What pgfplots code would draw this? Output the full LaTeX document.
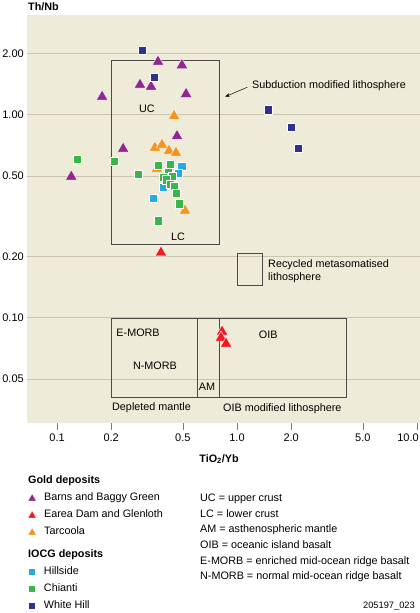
\documentclass[border=0pt]{standalone}
\usepackage{fontspec}
\setmainfont{Liberation Sans}
\usepackage{pgfplots}
\pgfplotsset{compat=1.18}
\usetikzlibrary{arrows.meta}
\definecolor{purpleM}{HTML}{92278F}
\definecolor{redM}{HTML}{ED1C24}
\definecolor{orangeM}{HTML}{F7941D}
\definecolor{blueL}{HTML}{27AAE1}
\definecolor{greenM}{HTML}{39B54A}
\definecolor{blueD}{HTML}{2E3192}
\definecolor{bgc}{HTML}{EEEBD9}
\definecolor{gridc}{HTML}{C9C5AE}
\definecolor{boxc}{HTML}{4A4A4A}
\newcommand\mf{\fontsize{10.8}{13}\selectfont}
\pgfplotsset{
  mylegend/.style={
    legend style={anchor=north west, draw=none, fill=none,
      inner sep=0pt, outer sep=0pt, row sep=5pt, font=\mf,
      nodes={inner sep=0pt, text height=9.5pt, text depth=2.5pt}},
    legend cell align=left,
  },
  tri/.style={mark=triangle*, mark size=4.8pt, mark options={fill=#1, draw=white, line width=0.3pt},
    legend image code/.code={\path[draw=none] (-4pt,0pt) -- (12pt,0pt); \draw[##1, only marks] plot coordinates {(0pt,-1.2pt)};}},
  sqr/.style={mark=square*, mark size=3.6pt, mark options={fill=#1, draw=white, line width=0.3pt},
    legend image code/.code={\path[draw=none] (-4pt,0pt) -- (12pt,0pt); \draw[##1, only marks] plot coordinates {(0pt,0pt)};}},
}
\begin{document}
\mf
\begin{tikzpicture}
\useasboundingbox (-27pt,-190pt) rectangle (393pt,423pt);
\begin{axis}[
  at={(0pt,0pt)}, anchor=south west,
  width=393pt, height=408pt, scale only axis,
  xmode=log, ymode=log,
  xmin=0.0681, xmax=10.39, ymin=0.03039, ymax=3.109,
  xtick={0.1,0.2,0.5,1,2,5,10},
  xticklabels={0.1,0.2,0.5,1.0,2.0,5.0,\hspace*{-18pt}10.0},
  ytick={0.05,0.1,0.2,0.5,1,2},
  yticklabels={0.05,0.10,0.20,0.50,1.00,2.00},
  xminorticks=false, yminorticks=false,
  xtick pos=bottom, ytick pos=left,
  axis line style={draw=none},
  axis background/.style={fill=bgc},
  ymajorgrids, major grid style={draw=gridc, line width=1pt},
  tick align=outside, major tick length=7pt,
  xtick style={draw=gray, line width=0.6pt},
  ytick style={draw=none},
  tick label style={font=\fontsize{11}{13}\selectfont},
  yticklabel style={xshift=7.5pt},
  /pgf/number format/assume math mode=true,
  clip=false,
  mylegend,
  legend style={at={(0.0025,-0.1676)}},
]
\addlegendimage{tri=purpleM}
\addlegendentry{Barns and Baggy Green}
\addlegendimage{tri=redM}
\addlegendentry{Earea Dam and Glenloth}
\addlegendimage{tri=orangeM}
\addlegendentry{Tarcoola}

% field boxes
\draw[boxc, line width=0.9pt] (axis cs:0.2,0.2314) rectangle (axis cs:0.794,1.866);
\draw[boxc, line width=0.9pt] (axis cs:1.01,0.145) rectangle (axis cs:1.38,0.209);
\draw[boxc, line width=0.9pt] (axis cs:0.2,0.0404) rectangle (axis cs:4.08,0.1);
\draw[boxc, line width=0.9pt] (axis cs:0.6,0.0404) -- (axis cs:0.6,0.1);
\draw[boxc, line width=0.9pt] (axis cs:0.794,0.0404) -- (axis cs:0.794,0.1);

% Barns and Baggy Green
\addplot[only marks, forget plot, mark=triangle*, mark size=6.7pt, mark options={fill=purpleM, draw=white, line width=0.4pt}] table {
0.364 1.83
0.494 1.76
0.289 1.41
0.333 1.38
0.521 1.27
0.178 1.23
0.464 0.788
0.233 0.682
0.120 0.497
};
% Earea Dam and Glenloth
\addplot[only marks, forget plot, mark=triangle*, mark size=6.7pt, mark options={fill=redM, draw=white, line width=0.4pt}] table {
0.378 0.210
0.826 0.0856
0.815 0.080
0.869 0.0747
};
% Tarcoola
\addplot[only marks, forget plot, mark=triangle*, mark size=6.7pt, mark options={fill=orangeM, draw=white, line width=0.4pt}] table {
0.447 0.99
0.350 0.690
0.383 0.714
0.419 0.667
0.458 0.652
0.359 0.544
0.425 0.557
0.514 0.338
};
% Hillside
\addplot[only marks, forget plot, mark=square*, mark size=4.2pt, mark options={fill=blueL, draw=white, line width=0.4pt}] table {
0.494 0.561
0.470 0.518
0.388 0.442
0.341 0.390
};
% Chianti
\addplot[only marks, forget plot, mark=square*, mark size=4.2pt, mark options={fill=greenM, draw=white, line width=0.4pt}] table {
0.129 0.607
0.207 0.593
0.282 0.512
0.364 0.567
0.425 0.574
0.414 0.524
0.435 0.501
0.388 0.495
0.403 0.479
0.425 0.457
0.447 0.447
0.458 0.413
0.476 0.365
0.364 0.301
};
% White Hill
\addplot[only marks, forget plot, mark=square*, mark size=4.2pt, mark options={fill=blueD, draw=white, line width=0.4pt}] table {
0.297 2.09
0.346 1.54
1.49 1.06
2.00 0.873
2.18 0.688
};

% annotations
\node[inner sep=0pt] at (axis cs:0.316,1.07) {UC};
\node[inner sep=0pt] at (axis cs:0.47,0.251) {LC};
\node[inner sep=0pt, anchor=west] at (axis cs:1.21,1.39) {Subduction modified lithosphere};
\draw[-{Stealth[length=5pt,width=3.5pt]}, line width=0.5pt] (axis cs:1.14,1.37) -- (axis cs:0.858,1.23);
\node[inner sep=0pt, anchor=west, align=left, font=\fontsize{10.8}{13.4}\selectfont] at (axis cs:1.487,0.1705) {Recycled metasomatised\\lithosphere};
\node[inner sep=0pt] at (axis cs:0.282,0.0844) {E-MORB};
\node[inner sep=0pt] at (axis cs:0.35,0.058) {N-MORB};
\node[inner sep=0pt] at (axis cs:0.681,0.0457) {AM};
\node[inner sep=0pt] at (axis cs:1.49,0.0825) {OIB};
\node[inner sep=0pt, anchor=west] at (axis cs:0.202,0.036) {Depleted mantle};
\node[inner sep=0pt, anchor=west] at (axis cs:0.836,0.0356) {OIB modified lithosphere};
\end{axis}
% second legend group (IOCG deposits)
\begin{axis}[
  at={(0pt,0pt)}, anchor=south west,
  width=393pt, height=408pt, scale only axis,
  hide axis, xmin=0, xmax=1, ymin=0, ymax=1,
  mylegend,
  legend style={at={(0.0025,-0.349)}},
]
\addlegendimage{sqr=blueL}
\addlegendentry{Hillside}
\addlegendimage{sqr=greenM}
\addlegendentry{Chianti}
\addlegendimage{sqr=blueD}
\addlegendentry{White Hill}
\end{axis}
% titles
\node[anchor=west, inner sep=0pt, font=\mf\bfseries] at (1pt,416pt) {Th/Nb};
\node[inner sep=0pt, font=\mf\bfseries] at (192pt,-36pt) {TiO\textsubscript{2}/Yb};
\node[anchor=base west, inner sep=0pt, font=\mf\bfseries] at (1pt,-60.9pt) {Gold deposits};
\node[anchor=base west, inner sep=0pt, font=\mf\bfseries] at (1pt,-134.9pt) {IOCG deposits};
% abbreviations
\node[anchor=base west, inner sep=0pt] at (173pt,-78.7pt) {UC = upper crust};
\node[anchor=base west, inner sep=0pt] at (173pt,-94.3pt) {LC = lower crust};
\node[anchor=base west, inner sep=0pt] at (173pt,-109.9pt) {AM = asthenospheric mantle};
\node[anchor=base west, inner sep=0pt] at (173pt,-125.5pt) {OIB = oceanic island basalt};
\node[anchor=base west, inner sep=0pt] at (173pt,-141.1pt) {E-MORB = enriched mid-ocean ridge basalt};
\node[anchor=base west, inner sep=0pt] at (173pt,-156.7pt) {N-MORB = normal mid-ocean ridge basalt};
\node[anchor=base east, inner sep=0pt, font=\fontsize{9.3}{11}\selectfont] at (388pt,-185.3pt) {205197\_023};
\end{tikzpicture}
\end{document}
